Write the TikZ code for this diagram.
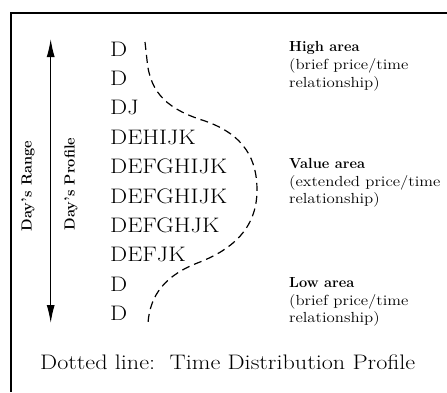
\documentclass[tikz,border=0pt]{standalone}
\usepackage{graphicx}
\usetikzlibrary{arrows.meta}
\newcommand\widetxt[2][1.15]{\scalebox{#1}[1]{#2}}
\begin{document}
\begin{tikzpicture}[x=1pt,y=-1pt,
  row/.style={anchor=base west,inner sep=0pt,font=\fontsize{21}{24}\selectfont},
  lab/.style={anchor=base west,inner sep=0pt,font=\fontsize{14.6}{17}\selectfont},
  labb/.style={lab,font=\fontsize{14.6}{17}\selectfont\bfseries},
  side/.style={inner sep=0pt,rotate=90,font=\fontsize{14.6}{17}\selectfont\bfseries},
  prof/.style={dash pattern=on 8pt off 5pt,line width=1.2pt}]
\useasboundingbox (0,0) rectangle (447,392);
% frame (top and left edges only)
\draw[line width=2.8pt] (447,13) -- (11,13) -- (11,392);
% range arrow
\coordinate (atop) at (50.7,39);
\coordinate (abot) at (50.7,323);
\draw[line width=1.2pt,{Latex[length=18pt,width=8pt]}-{Latex[length=18pt,width=8pt]}] (atop) -- (abot);
\node[side] (range) at (28,186) {Day's Range};
\node[side] (profile) at (71,184) {Day's Profile};
% letter rows
\node[row] (r1) at (110,56) {\widetxt{D}};
\node[row] (r2) at (110,85.4) {\widetxt{D}};
\node[row] (r3) at (110,114.8) {\widetxt{DJ}};
\node[row] (r4) at (110,144.2) {\widetxt{DEHIJK}};
\node[row] (r5) at (110,173.6) {\widetxt{DEFGHIJK}};
\node[row] (r6) at (110,203) {\widetxt{DEFGHIJK}};
\node[row] (r7) at (110,232.4) {\widetxt{DEFGHJK}};
\node[row] (r8) at (110,261.8) {\widetxt{DEFJK}};
\node[row] (r9) at (110,291.2) {\widetxt{D}};
\node[row] (r10) at (110,320.6) {\widetxt{D}};
% time distribution profile
\draw[prof] (145,42) -- (147,60) .. controls (150,95) and (170,110) .. (205,121)
  .. controls (245,135) and (257,160) .. (257,190)
  .. controls (257,230) and (230,250) .. (200,262)
  .. controls (165,275) and (150,295) .. (148,323);
% area labels
\node[labb] (h1) at (289,51) {High area};
\node[lab] (h2) at (289,69.5) {\widetxt{(brief price/time}};
\node[lab] (h3) at (289,87) {\widetxt{relationship)}};
\node[labb] (v1) at (289,168) {Value area};
\node[lab] (v2) at (289,186) {\widetxt{(extended price/time}};
\node[lab] (v3) at (289,203.5) {\widetxt{relationship)}};
\node[labb] (l1) at (289,287) {Low area};
\node[lab] (l2) at (289,305) {\widetxt{(brief price/time}};
\node[lab] (l3) at (289,322.5) {\widetxt{relationship)}};
% caption
\node[anchor=base west,inner sep=0pt,font=\fontsize{21}{24}\selectfont] (cap) at (40,369) {\widetxt{Dotted line:\ \ Time Distribution Profile}};
\end{tikzpicture}
\end{document}
